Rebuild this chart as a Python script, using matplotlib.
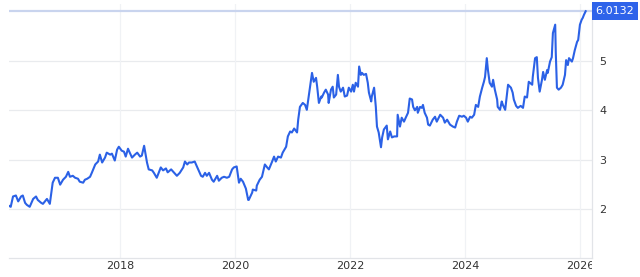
import matplotlib
matplotlib.use("Agg")
import matplotlib.pyplot as plt
from matplotlib.transforms import Bbox, TransformedBbox

# decimal years and values
years = [
    2016.07, 2016.10, 2016.14, 2016.19, 2016.23, 2016.28, 2016.31, 2016.35, 2016.38, 2016.43,
    2016.49, 2016.54, 2016.57, 2016.63, 2016.66, 2016.73, 2016.78, 2016.83, 2016.87, 2016.92,
    2016.96, 2017.01, 2017.06, 2017.10, 2017.13, 2017.18, 2017.22, 2017.27, 2017.30, 2017.36,
    2017.39, 2017.43, 2017.48, 2017.51, 2017.57, 2017.62, 2017.65, 2017.69, 2017.74, 2017.77,
    2017.83, 2017.86, 2017.91, 2017.95, 2017.98, 2018.03, 2018.07, 2018.10, 2018.14, 2018.17,
    2018.21, 2018.26, 2018.30, 2018.35, 2018.38, 2018.42, 2018.47, 2018.50, 2018.56, 2018.59,
    2018.64, 2018.66, 2018.71, 2018.75, 2018.80, 2018.83, 2018.89, 2018.92, 2018.99, 2019.04,
    2019.10, 2019.13, 2019.17, 2019.20, 2019.25, 2019.30, 2019.36, 2019.41, 2019.44, 2019.48,
    2019.51, 2019.55, 2019.60, 2019.63, 2019.69, 2019.72, 2019.77, 2019.81, 2019.86, 2019.90,
    2019.95, 2019.98, 2020.03, 2020.07, 2020.10, 2020.14, 2020.19, 2020.23, 2020.24, 2020.30,
    2020.31, 2020.37, 2020.38, 2020.43, 2020.47, 2020.52, 2020.56, 2020.59, 2020.64, 2020.68,
    2020.71, 2020.75, 2020.80, 2020.83, 2020.89, 2020.92, 2020.96, 2020.99, 2021.03, 2021.08,
    2021.10, 2021.13, 2021.18, 2021.22, 2021.25, 2021.30, 2021.34, 2021.37, 2021.41, 2021.43,
    2021.46, 2021.50, 2021.51, 2021.55, 2021.58, 2021.62, 2021.63, 2021.67, 2021.70, 2021.72,
    2021.76, 2021.79, 2021.81, 2021.84, 2021.88, 2021.91, 2021.95, 2021.98, 2022.02, 2022.05,
    2022.07, 2022.10, 2022.14, 2022.16, 2022.19, 2022.21, 2022.24, 2022.28, 2022.31, 2022.33,
    2022.37, 2022.38, 2022.42, 2022.45, 2022.47, 2022.50, 2022.54, 2022.56, 2022.59, 2022.64,
    2022.66, 2022.70, 2022.73, 2022.77, 2022.82, 2022.83, 2022.87, 2022.90, 2022.94, 2022.97,
    2023.01, 2023.04, 2023.08, 2023.10, 2023.13, 2023.17, 2023.18, 2023.22, 2023.25, 2023.27,
    2023.30, 2023.34, 2023.36, 2023.39, 2023.44, 2023.48, 2023.51, 2023.57, 2023.62, 2023.65,
    2023.69, 2023.74, 2023.79, 2023.83, 2023.86, 2023.90, 2023.95, 2023.98, 2024.02, 2024.05,
    2024.09, 2024.12, 2024.16, 2024.19, 2024.23, 2024.26, 2024.30, 2024.33, 2024.35, 2024.38,
    2024.40, 2024.43, 2024.47, 2024.49, 2024.52, 2024.56, 2024.57, 2024.61, 2024.64, 2024.66,
    2024.70, 2024.73, 2024.75, 2024.80, 2024.83, 2024.85, 2024.89, 2024.92, 2024.97, 2025.01,
    2025.04, 2025.08, 2025.11, 2025.17, 2025.18, 2025.22, 2025.25, 2025.27, 2025.30, 2025.34,
    2025.36, 2025.39, 2025.43, 2025.44, 2025.48, 2025.51, 2025.53, 2025.57, 2025.58, 2025.60,
    2025.63, 2025.67, 2025.70, 2025.74, 2025.76, 2025.79, 2025.81, 2025.86, 2025.88, 2025.91,
    2025.95, 2025.97, 2026.00, 2026.03, 2026.05, 2026.07, 2026.10,
]
values = [
    2.06, 2.04, 2.25, 2.27, 2.15, 2.25, 2.27, 2.12, 2.08, 2.04,
    2.20, 2.25, 2.18, 2.12, 2.10, 2.20, 2.10, 2.53, 2.63, 2.63,
    2.49, 2.59, 2.65, 2.75, 2.65, 2.67, 2.63, 2.61, 2.55, 2.53,
    2.59, 2.61, 2.65, 2.73, 2.90, 2.96, 3.10, 2.94, 3.04, 3.14,
    3.10, 3.12, 2.98, 3.20, 3.26, 3.18, 3.16, 3.06, 3.22, 3.14,
    3.04, 3.10, 3.14, 3.06, 3.08, 3.28, 2.94, 2.80, 2.78, 2.73,
    2.63, 2.69, 2.84, 2.78, 2.82, 2.74, 2.80, 2.76, 2.67, 2.73,
    2.84, 2.96, 2.90, 2.94, 2.94, 2.96, 2.80, 2.67, 2.65, 2.73,
    2.67, 2.73, 2.59, 2.55, 2.67, 2.57, 2.63, 2.65, 2.63, 2.65,
    2.80, 2.84, 2.86, 2.53, 2.61, 2.55, 2.41, 2.18, 2.18, 2.33,
    2.39, 2.37, 2.47, 2.59, 2.65, 2.90, 2.84, 2.80, 2.94, 3.06,
    2.96, 3.06, 3.04, 3.14, 3.26, 3.47, 3.57, 3.55, 3.63, 3.55,
    3.81, 4.07, 4.15, 4.11, 4.01, 4.42, 4.76, 4.58, 4.66, 4.48,
    4.15, 4.28, 4.26, 4.36, 4.42, 4.32, 4.15, 4.42, 4.48, 4.26,
    4.32, 4.72, 4.48, 4.38, 4.46, 4.28, 4.30, 4.46, 4.38, 4.52,
    4.38, 4.56, 4.48, 4.89, 4.72, 4.76, 4.72, 4.74, 4.56, 4.36,
    4.18, 4.28, 4.46, 4.07, 3.67, 3.55, 3.25, 3.45, 3.61, 3.69,
    3.41, 3.57, 3.45, 3.47, 3.47, 3.91, 3.67, 3.85, 3.77, 3.85,
    3.95, 4.24, 4.22, 4.07, 4.00, 4.07, 3.95, 4.07, 4.05, 4.11,
    3.95, 3.85, 3.71, 3.69, 3.81, 3.87, 3.77, 3.91, 3.85, 3.75,
    3.81, 3.71, 3.67, 3.65, 3.77, 3.89, 3.87, 3.89, 3.85, 3.77,
    3.87, 3.85, 3.91, 4.11, 4.07, 4.28, 4.46, 4.58, 4.68, 5.06,
    4.82, 4.56, 4.48, 4.62, 4.42, 4.22, 4.07, 4.01, 4.18, 4.11,
    4.01, 4.32, 4.52, 4.46, 4.36, 4.22, 4.09, 4.05, 4.09, 4.05,
    4.28, 4.26, 4.58, 4.52, 4.68, 5.06, 5.08, 4.66, 4.38, 4.62,
    4.78, 4.62, 4.82, 4.76, 4.99, 5.08, 5.57, 5.74, 5.17, 4.46,
    4.42, 4.46, 4.52, 4.72, 5.02, 4.92, 5.06, 4.99, 5.06, 5.22,
    5.39, 5.43, 5.74, 5.84, 5.88, 5.94, 6.0132,
]
last_value = 6.0132
y_ticks = [2, 3, 4, 5]
x_ticks = [2018, 2020, 2022, 2024, 2026]

line_color = "#2b61e6"
grid_color = "#e9ebee"

fig = plt.figure(figsize=(6.4, 2.77), dpi=100)
ax = fig.add_axes([9 / 640, 19 / 277, 583 / 640, 254 / 277])

ax.set_xlim(2016.07, 2026.21)
ax.set_ylim(1.0, 6.16)

# grid
for yt in y_ticks:
    ax.axhline(yt, color=grid_color, lw=0.9, zorder=0)
for xt in x_ticks:
    ax.axvline(xt, color="#f0f2f5", lw=0.9, zorder=0)

# current value line
ax.axhline(last_value, color="#c9d4ee", lw=1.6, zorder=1)

ax.plot(years, values, color=line_color, lw=1.5, zorder=3)

for s in ["top", "left"]:
    ax.spines[s].set_visible(False)
ax.spines["bottom"].set_color("#e2e4e8")
ax.spines["right"].set_color("#e2e4e8")
ax.spines["bottom"].set_linewidth(0.9)
ax.spines["right"].set_linewidth(0.9)

ax.yaxis.tick_right()
ax.set_yticks(y_ticks)
ax.set_yticklabels([str(v) for v in y_ticks])
ax.set_xticks(x_ticks)
ax.set_xticklabels([str(v) for v in x_ticks])
ax.tick_params(axis="both", length=0, labelsize=8, labelcolor="#333333")
ax.tick_params(axis="y", pad=5)
ax.tick_params(axis="x", pad=2)

# hide the part of the last year label that runs into the price scale
clip = TransformedBbox(Bbox([[0, 0], [592 / 640, 1]]), fig.transFigure)
for lab in ax.get_xticklabels():
    lab.set_clip_box(clip)
    lab.set_clip_on(True)

# last value tag on the price scale
ax.annotate(f"{last_value:.4f}", xy=(1, last_value), xycoords=("axes fraction", "data"),
            xytext=(2.5, 0), textcoords="offset points", ha="left", va="center",
            color="white", fontsize=8,
            bbox=dict(boxstyle="square,pad=0.35", fc="#2e63ea", ec="none"))

fig.savefig("out.png", dpi=100)
